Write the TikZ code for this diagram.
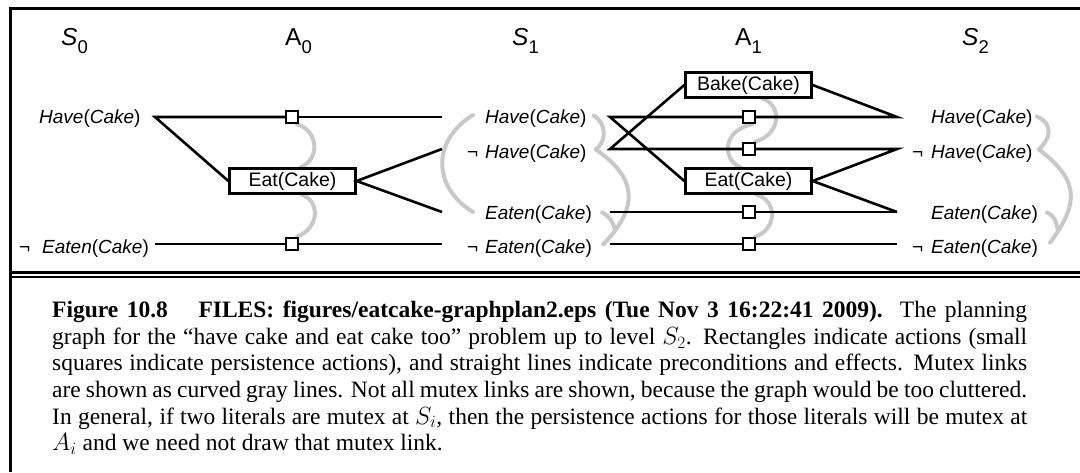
\documentclass[tikz,border=0pt]{standalone}
\usepackage{fontspec}
\setmainfont{Liberation Serif}
\newfontfamily\dsans{Liberation Sans}
\usetikzlibrary{backgrounds}
\definecolor{mutexgray}{RGB}{200,200,200}
\begin{document}
\begin{tikzpicture}[x=1pt,y=-1pt,
  lit/.style={font=\dsans\fontsize{19}{20}\selectfont, inner sep=0pt, anchor=base west},
  lvl/.style={font=\dsans\fontsize{24.5}{26}\selectfont, inner sep=0pt, anchor=base west},
  act/.style={draw, line width=2.3pt, minimum width=126pt, minimum height=25pt, inner sep=0pt, fill=white, font=\dsans\fontsize{19.5}{20}\selectfont},
  pers/.style={draw, fill=white, line width=2.3pt, minimum size=12pt, inner sep=0pt},
  lk/.style={line width=2.6pt, black},
  mx/.style={line width=4pt, mutexgray, line cap=round},
  frame/.style={line width=3pt, black}]
\useasboundingbox (0,0) rectangle (1080,472);
% frame
\draw[frame] (1080,8.3) -- (10.5,8.3) -- (10.5,472);
\draw[line width=2.6pt] (10.5,272.5) -- (1080,272.5);
\draw[line width=1.8pt] (10.5,276.8) -- (1080,276.8);
% level titles
\newcommand{\subs}[1]{\lower8pt\hbox{\fontsize{18.5}{18}\selectfont #1}}
\node[lvl] (lS0) at (61,45) {\textit{S}\subs{0}};
\node[lvl] (lA0) at (285,45) {A\subs{0}};
\node[lvl] (lS1) at (512,45) {\textit{S}\subs{1}};
\node[lvl] (lA1) at (735,45) {A\subs{1}};
\node[lvl] (lS2) at (962,45) {\textit{S}\subs{2}};
% literal labels
\node[lit] (s0h) at (39,123.5) {\textit{Have}(\textit{Cake})};
\node[lit] (s0ne) at (42,253.5) {\llap{¬\hspace{12pt}}\textit{Eaten}(\textit{Cake})};
\node[lit] (s1h) at (485,123.5) {\textit{Have}(\textit{Cake})};
\node[lit] (s1nh) at (485,158.5) {\llap{¬\hspace{7pt}}\textit{Have}(\textit{Cake})};
\node[lit] (s1e) at (485,219.5) {\textit{Eaten}(\textit{Cake})};
\node[lit] (s1ne) at (485,253.5) {\llap{¬\hspace{7pt}}\textit{Eaten}(\textit{Cake})};
\node[lit] (s2h) at (931,123.5) {\textit{Have}(\textit{Cake})};
\node[lit] (s2nh) at (931,158.5) {\llap{¬\hspace{8pt}}\textit{Have}(\textit{Cake})};
\node[lit] (s2e) at (931,219.5) {\textit{Eaten}(\textit{Cake})};
\node[lit] (s2ne) at (931,253.5) {\llap{¬\hspace{8pt}}\textit{Eaten}(\textit{Cake})};
% line end coordinates
\coordinate (s0hR) at (155,117);
\coordinate (s0neR) at (155,244);
\coordinate (s1hL) at (442,117);
\coordinate (s1nhL) at (442,149);
\coordinate (s1eL) at (442,212);
\coordinate (s1neL) at (442,244);
\coordinate (s1hR) at (610,117);
\coordinate (s1nhR) at (610,149);
\coordinate (s1eR) at (610,212);
\coordinate (s1neR) at (610,244);
\coordinate (s2hL) at (897,117);
\coordinate (s2nhL) at (897,149);
\coordinate (s2eL) at (897,212);
\coordinate (s2neL) at (897,244);
% mutex joins
\coordinate (j1) at (615,230);
\coordinate (j2) at (1057.5,228.5);
% actions
\node[act] (eat0) at (292.5,181) {Eat(Cake)};
\node[act] (bake1) at (748.5,85) {Bake(Cake)};
\node[act] (eat1) at (748.5,181) {Eat(Cake)};
\node[pers] (p0h) at (292,117) {};
\node[pers] (p0ne) at (292,244) {};
\node[pers] (p1h) at (749,117) {};
\node[pers] (p1nh) at (749,149) {};
\node[pers] (p1e) at (749,212) {};
\node[pers] (p1ne) at (749,244) {};
\begin{pgfonlayer}{background}
\draw[mx] ([xshift=5pt]p0h.south) .. controls +(22,7) and +(19.5,-8) .. ([xshift=8pt]eat0.north);
\draw[mx] ([xshift=9pt]eat0.south) .. controls +(18.5,6) and +(23,-9.5) .. ([xshift=5pt]p0ne.north);
\draw[mx] ([shift={(-12,-8.5)}]s1h.base west) .. controls +(-41,25) and +(-41,-25) .. ([shift={(-12,-7.5)}]s1e.base west);
\draw[mx] ([shift={(7,-8)}]s1h.base east) .. controls +(13,8) and +(11,-8) .. ([shift={(9,-9)}]s1nh.base east);
\draw[mx] ([shift={(9,-9)}]s1nh.base east) .. controls +(44,30) and +(34,-35) .. ([shift={(11,-9)}]s1ne.base east);
\draw[mx] ([shift={(10,-7)}]s1e.base east) .. controls +(8,4) and +(-2,-8) .. (j1);
\draw[mx] ([xshift=14pt]bake1.south) .. controls +(19,6) and +(27,-8) .. ([xshift=6pt]p1nh.north);
\draw[mx] ([xshift=3pt]p1h.south) .. controls +(-30,7) and +(-18.5,-8) .. ([xshift=-8pt]eat1.north);
\draw[mx] ([xshift=8pt]eat1.south) .. controls +(21,6) and +(22.5,-8) .. ([xshift=6pt]p1ne.north);
\draw[mx] ([shift={(4,-7)}]s2h.base east) .. controls +(18,8) and +(11,-10) .. ([shift={(6,-9)}]s2nh.base east);
\draw[mx] ([shift={(6,-9)}]s2nh.base east) .. controls +(40,30) and +(30,-40) .. ([shift={(12,-11)}]s2ne.base east);
\draw[mx] ([shift={(9,-7)}]s2e.base east) .. controls +(8,4) and +(-2,-8) .. (j2);
\end{pgfonlayer}
% A0 links
\draw[lk, line join=miter] (eat0.west) -- (s0hR) -- (p0h);
\draw[lk] (p0h) -- (s1hL);
\draw[lk] (s0neR) -- (p0ne) -- (s1neL);
\draw[lk, line join=miter] (s1nhL) -- (eat0.east) -- (s1eL);
% A1 links
\draw[lk, line join=miter] (eat1.west) -- (s1hR) -- (p1h);
\draw[lk, line join=miter] (bake1.west) -- (s1nhR) -- (p1nh);
\draw[lk] (s1eR) -- (p1e) -- (s2eL);
\draw[lk] (s1neR) -- (p1ne) -- (s2neL);
\draw[lk, line join=miter] (p1h) -- (s2hL) -- (bake1.east);
\draw[lk, line join=miter] (p1nh) -- (s2nhL) -- (eat1.east) -- (s2eL);
% caption
\node[anchor=north west, inner sep=0pt, text width=975pt, align=justify,
      font=\fontsize{23.5}{26.6}\selectfont] (cap) at (52,301)
{\textbf{Figure 10.8}\hspace{1.3em}\textbf{FILES: figures/eatcake-graphplan2.eps (Tue Nov 3 16:22:41 2009).}\ \ The planning\linebreak
graph for the “have cake and eat cake too” problem up to level $S_2$. Rectangles indicate actions (small\linebreak
squares indicate persistence actions), and straight lines indicate preconditions and effects. Mutex links\linebreak
are shown as curved gray lines. Not all mutex links are shown, because the graph would be too cluttered.\linebreak
In general, if two literals are mutex at $S_i$, then the persistence actions for those literals will be mutex at\linebreak
$A_i$ and we need not draw that mutex link.};
\end{tikzpicture}
\end{document}
